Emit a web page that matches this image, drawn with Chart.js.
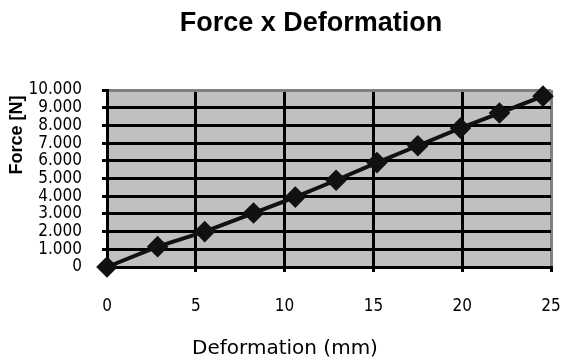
<!DOCTYPE html>
<html>
<head>
<meta charset="utf-8">
<script src="https://cdn.jsdelivr.net/npm/chart.js@4.4.1/dist/chart.umd.min.js"></script>
<style>
html,body{margin:0;padding:0;background:#fff;}
#wrap{width:563px;height:361px;position:relative;}
</style>
</head>
<body>
<div id="wrap"><canvas id="c" width="563" height="361"></canvas></div>
<script>
const chartTitle = 'Force x Deformation';
const xAxisTitle = 'Deformation (mm)';
const yAxisTitle = 'Force [N]';
const deformation = [0, 2.85, 5.5, 8.25, 10.6, 12.9, 15.2, 17.5, 19.9, 22.1, 24.55];
const force = [0, 1150, 2000, 3050, 3950, 4900, 5900, 6850, 7850, 8700, 9650];
const yTickLabels = ['0','1.000','2.000','3.000','4.000','5.000','6.000','7.000','8.000','9.000','10.000'];
const xTickLabels = ['0','5','10','15','20','25'];

const points = deformation.map((x, i) => ({x: x, y: force[i]}));
const narrow = "'Liberation Sans Narrow','DejaVu Sans Condensed','Liberation Sans',Arial,sans-serif";

const decor = {
  id: 'decor',
  beforeDraw(chart) {
    const {ctx, chartArea: a} = chart;
    ctx.save();
    ctx.fillStyle = '#c0c0c0';
    ctx.fillRect(a.left, a.top, a.right - a.left, a.bottom - a.top);
    ctx.restore();
  },
  afterDraw(chart) {
    const {ctx} = chart;
    ctx.save();
    ctx.fillStyle = '#000';
    ctx.textAlign = 'center';
    ctx.textBaseline = 'middle';
    ctx.font = "bold 27px 'Liberation Sans', Arial, sans-serif";
    ctx.fillText(chartTitle, 311, 24);
    ctx.font = "20px 'DejaVu Sans', sans-serif";
    ctx.fillText(xAxisTitle, 285, 349);
    ctx.translate(17, 135);
    ctx.rotate(-Math.PI / 2);
    ctx.font = "bold 18px 'Liberation Sans', Arial, sans-serif";
    ctx.fillText(yAxisTitle, 0, 0);
    ctx.restore();
  }
};

new Chart(document.getElementById('c'), {
  type: 'line',
  data: {
    datasets: [{
      data: points,
      borderColor: '#111',
      backgroundColor: '#111',
      borderWidth: 4,
      pointStyle: 'rectRot',
      pointRadius: 8,
      pointHoverRadius: 8,
      pointBackgroundColor: '#111',
      pointBorderColor: '#111',
      tension: 0,
      clip: false
    }]
  },
  options: {
    responsive: false,
    animation: false,
    events: [],
    layout: {padding: {top: 90, right: 8, left: 0, bottom: 0}},
    plugins: {legend: {display: false}, tooltip: {enabled: false}, title: {display: false}},
    scales: {
      x: {
        type: 'linear', min: 0, max: 25,
        afterFit: s => { s.height = 94; s.paddingRight = 0; s.paddingLeft = 0; },
        ticks: {
          stepSize: 5, padding: 24, color: '#000', autoSkip: false, maxRotation: 0,
          font: {family: narrow, size: 17},
          callback: (v, i) => xTickLabels[i]
        },
        grid: {
          color: c => (c.tick && c.tick.value === 25) ? '#808080' : '#000',
          lineWidth: 3, tickLength: 5, tickColor: '#000', tickWidth: 3
        },
        border: {display: true, color: '#000', width: 3}
      },
      y: {
        min: 0, max: 10000,
        afterFit: s => { s.width = 107; s.paddingTop = 0; s.paddingBottom = 0; },
        ticks: {
          stepSize: 1000, padding: 20, color: '#000', autoSkip: false,
          font: {family: narrow, size: 17},
          callback: (v, i) => yTickLabels[i]
        },
        grid: {
          color: c => (c.tick && c.tick.value === 10000) ? '#808080' : '#000',
          lineWidth: 3, tickLength: 5, tickColor: '#000', tickWidth: 3
        },
        border: {display: true, color: '#000', width: 3}
      }
    }
  },
  plugins: [decor]
});
</script>
</body>
</html>
